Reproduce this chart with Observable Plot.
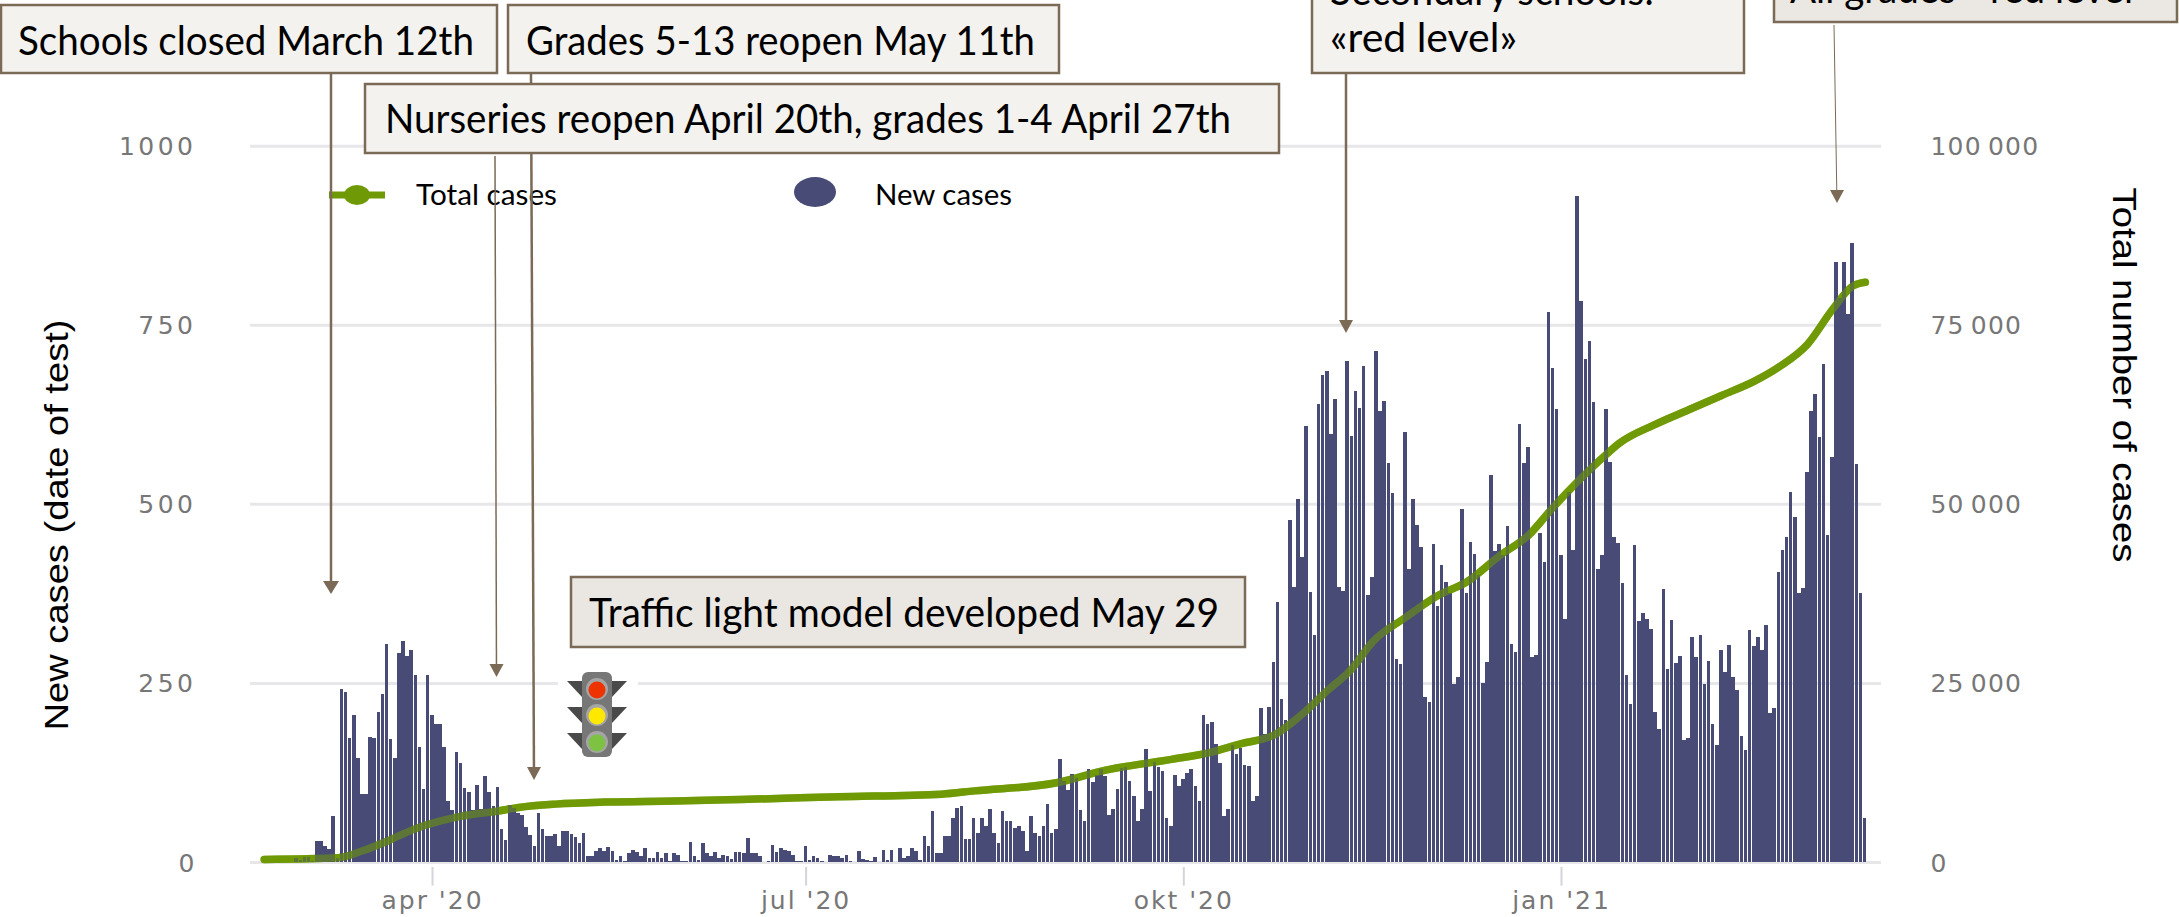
<!DOCTYPE html>
<html>
<head>
<meta charset="utf-8">
<script src="https://cdn.jsdelivr.net/npm/d3@7"></script>
<script src="https://cdn.jsdelivr.net/npm/@observablehq/plot@0.6"></script>
<style>
html,body{margin:0;padding:0;background:#fff;overflow:hidden}
svg{display:block}
</style>
</head>
<body>
<div id="chart"></div>
<script>
const firstBarDate = "2020-02-28";
const newCases = [
  5,3,7,7,2,29,29,22,18,64,5,
  242,238,173,205,145,95,95,175,173,210,235,305,172,145,292,308,288,296,261,
  161,102,261,205,193,193,161,85,72,154,138,103,98,73,107,74,120,98,78,105,
  46,31,80,75,68,66,49,37,23,68,46,36,36,39,22,43,43,39,35,26,40,8,
  8,15,20,16,21,15,3,8,1,12,17,14,8,20,6,6,14,5,12,1,12,10,1,2,28,8,3,27,13,8,14,6,10,8,4,14,
  14,12,33,12,13,8,0,1,24,14,20,17,16,10,1,1,22,3,8,6,1,0,10,8,8,6,10,1,0,15,4,3,1,7,0,17,3,17,0,20,6,8,20,16,3,
  36,22,71,12,12,36,36,61,75,78,32,32,61,40,61,50,74,40,26,71,57,57,47,50,43,16,64,40,36,50,81,
  40,46,144,113,100,123,117,72,57,130,111,122,130,120,65,74,102,131,133,113,92,57,74,158,99,
  140,133,127,61,50,121,106,116,124,130,106,85,205,192,196,165,138,64,74,163,151,159,136,134,85,92,215,
  178,216,279,363,227,198,478,384,507,426,609,377,317,640,680,685,597,647,384,378,700,595,
  658,634,693,373,398,714,630,643,557,515,283,277,601,409,507,471,440,230,223,444,357,415,391,376,248,
  258,493,376,447,430,400,250,279,540,434,444,428,469,304,293,612,557,580,
  286,289,459,419,768,689,632,429,339,516,436,930,783,702,727,642,409,429,632,559,454,446,389,261,220,
  442,336,348,339,325,210,185,381,269,338,278,288,170,173,314,286,317,248,281,192,163,296,265,303,258,
  240,176,156,324,301,314,296,331,208,215,405,436,454,516,481,376,383,544,629,653,593,695,456,566,838,
  788,838,765,864,555,376,62
];
const totalDates = ["2020-02-20","2020-03-09","2020-03-15","2020-03-20","2020-03-28","2020-04-03","2020-04-08","2020-04-17","2020-04-22","2020-05-01","2020-05-13","2020-05-30","2020-06-15","2020-07-09","2020-08-03","2020-08-11","2020-08-31","2020-09-12","2020-09-28","2020-10-07","2020-10-15","2020-10-23","2020-10-29","2020-11-05","2020-11-11","2020-11-16","2020-11-24","2020-12-02","2020-12-09","2020-12-17","2020-12-24","2020-12-30","2021-01-05","2021-01-11","2021-01-15","2021-01-24","2021-02-01","2021-02-09","2021-02-17","2021-02-23","2021-03-02","2021-03-08","2021-03-13","2021-03-16"];
const totalCases = [420,650,1630,2750,4750,5800,6470,7200,7680,8150,8430,8570,8800,9170,9540,10000,11130,12900,14400,15300,16600,17800,20300,24000,27100,30800,34200,37300,39200,42850,45700,49600,53200,56500,58500,61200,63200,65200,67200,69200,72400,77200,80500,81000];
const yTicks = [0,250,500,750,1000];
const rightLabels = ["0","25 000","50 000","75 000","100 000"];
const xTickDates = ["2020-04-01","2020-07-01","2020-10-01","2021-01-01"];
const xTickLabels = ["apr '20","jul '20","okt '20","jan '21"];
const green = "#6f9a06", navy = "#474b75", brown = "#7b6a55", axisGrey = "#777777";

const bars = newCases.map((v,i) => {
  const day = d3.utcDay.offset(new Date(firstBarDate), i);
  return {x1: d3.utcHour.offset(day,-12), x2: d3.utcHour.offset(day,12), v};
});
const total = totalDates.map((d,i) => ({date:new Date(d), t: totalCases[i]/100}));

const tickFont = {fontSize:25, fill:axisGrey};
const chart = Plot.plot({
  width:2179, height:917,
  marginLeft:250, marginRight:298, marginTop:145.7, marginBottom:55,
  style:{background:"#fff"},
  x:{type:"utc", domain:[new Date(xTickDates[0]), new Date(xTickDates[3])], range:[432,1561]},
  y:{domain:[0,1000]},
  marks:[
    Plot.ruleY(yTicks,{stroke:"#e7e7ea", strokeWidth:3}),
    Plot.ruleX(xTickDates.map(d=>new Date(d)),{y1:-7,y2:-33,stroke:"#d4d4dc",strokeWidth:2}),
    Plot.line(total,{x:"date",y:"t",stroke:green,strokeWidth:7.5,curve:"monotone-x"}),
    Plot.rectY(bars,{x1:"x1",x2:"x2",y:"v",fill:navy,insetRight:0.5,shapeRendering:"crispEdges"}),
    Plot.line(total,{x:"date",y:"t",stroke:green,strokeWidth:7.5,strokeOpacity:0.55,curve:"monotone-x"}),
    Plot.axisY({anchor:"left",ticks:yTicks,tickSize:0,tickPadding:54,label:null,tickFormat:d=>String(d),dy:1,...tickFont}),
    Plot.axisY({anchor:"right",ticks:yTicks,tickSize:0,tickPadding:49,label:null,tickFormat:d=>rightLabels[yTicks.indexOf(d)],dy:1,...tickFont}),
    Plot.axisX({ticks:xTickDates.map(d=>new Date(d)),tickSize:0,tickPadding:29,label:null,tickFormat:d=>xTickLabels[xTickDates.indexOf(d.toISOString().slice(0,10))],...tickFont})
  ]
});
document.getElementById("chart").appendChild(chart);
const axisTexts = d3.select(chart).selectAll('g[aria-label^="y-axis"] text, g[aria-label^="x-axis"] text')
  .attr("font-family","DejaVu Sans").style("letter-spacing","2px");
axisTexts.filter(function(){ return this.textContent.includes(" ") && !this.textContent.includes("'"); })
  .style("letter-spacing","1.2px").style("word-spacing","-3px");
axisTexts.filter(function(){ return /^\d+$/.test(this.textContent) && this.textContent.length > 1; })
  .style("letter-spacing","3.5px");

// Annotation layer: callouts, legend, axis titles, traffic light
const boxes = [
  {x:1,y:5,w:496,h:68,fill:"#f3f2ee",lines:[{t:"Schools closed March 12th",x:18,y:55,len:456}]},
  {x:1312,y:-60,w:432,h:133,fill:"#f3f2ee",lines:[{t:"Secondary schools:",x:1330,y:5,len:324},{t:"«red level»",x:1330,y:52,len:187}]},
  {x:1774,y:-60,w:403,h:82,fill:"#ebe7e2",lines:[{t:"All grades - red level",x:1790,y:3,len:343}]},
  {x:571,y:577,w:674,h:70,fill:"#eae6e1",lines:[{t:"Traffic light model developed May 29",x:589,y:627,len:630}]}
];
const lateBoxes = [
  {x:508,y:5,w:551,h:68,fill:"#f3f2ee",lines:[{t:"Grades 5-13 reopen May 11th",x:526,y:55,len:509}]},
  {x:365,y:84,w:914,h:69,fill:"#f3f2ee",lines:[{t:"Nurseries reopen April 20th, grades 1-4 April 27th",x:385,y:133,len:846}]}
];
const arrows = [
  {x1:331,y1:73,x2:331,y2:594,w:2.5,h:8},
  {x1:495,y1:156,x2:496.5,y2:677,w:1.5,h:7},
  {x1:531,y1:73,x2:534,y2:780,w:2.5,h:7},
  {x1:1346,y1:73,x2:1346,y2:333,w:2.5,h:7},
  {x1:1834,y1:25,x2:1837,y2:203,w:1,h:7}
];
const svg = d3.select(chart).append("g").attr("text-anchor","start");
function drawBoxes(list){
  for(const b of list){
    svg.append("rect").attr("x",b.x).attr("y",b.y).attr("width",b.w).attr("height",b.h)
      .attr("fill",b.fill).attr("stroke",brown).attr("stroke-width",2.5);
    for(const l of b.lines){
      svg.append("text").attr("x",l.x).attr("y",l.y).text(l.t)
        .attr("font-family","Lato").attr("font-size",40).attr("fill","#000")
        .attr("textLength",l.len).attr("lengthAdjust","spacingAndGlyphs");
    }
  }
}
function drawArrows(){
  for(const a of arrows){
    const hy = a.y2-13, dx=(a.x2-a.x1)/(a.y2-a.y1);
    svg.append("line").attr("x1",a.x1).attr("y1",a.y1).attr("x2",a.x1+dx*(hy-a.y1)).attr("y2",hy)
      .attr("stroke",brown).attr("stroke-width",a.w);
    svg.append("path").attr("fill",brown)
      .attr("d",`M${a.x2-a.h},${hy}L${a.x2+a.h},${hy}L${a.x2},${a.y2}Z`);
  }
}

// legend
svg.append("line").attr("x1",329).attr("x2",385).attr("y1",195).attr("y2",195).attr("stroke",green).attr("stroke-width",7);
svg.append("ellipse").attr("cx",357).attr("cy",195).attr("rx",13).attr("ry",10).attr("fill",green);
svg.append("ellipse").attr("cx",815).attr("cy",192).attr("rx",21).attr("ry",15).attr("fill",navy);
for(const l of [{t:"Total cases",x:416,len:141},{t:"New cases",x:875,len:137}]){
  svg.append("text").attr("x",l.x).attr("y",205).text(l.t).attr("font-family","Lato").attr("font-size",29)
    .attr("fill","#000").attr("textLength",l.len).attr("lengthAdjust","spacingAndGlyphs");
}
drawArrows();
drawBoxes(boxes);
drawBoxes(lateBoxes);

// axis titles
svg.append("text").attr("transform","translate(68,525) rotate(-90)").attr("text-anchor","middle")
  .attr("font-family","Liberation Sans").attr("font-size",34).text("New cases (date of test)")
  .attr("textLength",411).attr("lengthAdjust","spacingAndGlyphs");
svg.append("text").attr("transform","translate(2113,375) rotate(90)").attr("text-anchor","middle")
  .attr("font-family","Liberation Sans").attr("font-size",34).text("Total number of cases")
  .attr("textLength",375).attr("lengthAdjust","spacingAndGlyphs");

// traffic light
const tl = svg.append("g");
tl.append("rect").attr("x",558).attr("y",680).attr("width",80).attr("height",9).attr("fill","#fff");
for(const cy of [681,707,733]){
  tl.append("path").attr("fill","#4a4a4a").attr("d",`M567,${cy}L582,${cy}L582,${cy+16}Z`);
  tl.append("path").attr("fill","#4a4a4a").attr("d",`M627,${cy}L612,${cy}L612,${cy+16}Z`);
}
tl.append("rect").attr("x",582).attr("y",672).attr("width",30).attr("height",85).attr("rx",6).attr("fill","#777");
[["#ee3300",689],["#ffe800",715],["#7dc242",742]].forEach(([c,cy])=>{
  tl.append("circle").attr("cx",597).attr("cy",cy).attr("r",11).attr("fill","#a5a5a5");
  tl.append("circle").attr("cx",597).attr("cy",cy+1).attr("r",8.5).attr("fill",c);
});
</script>
</body>
</html>
